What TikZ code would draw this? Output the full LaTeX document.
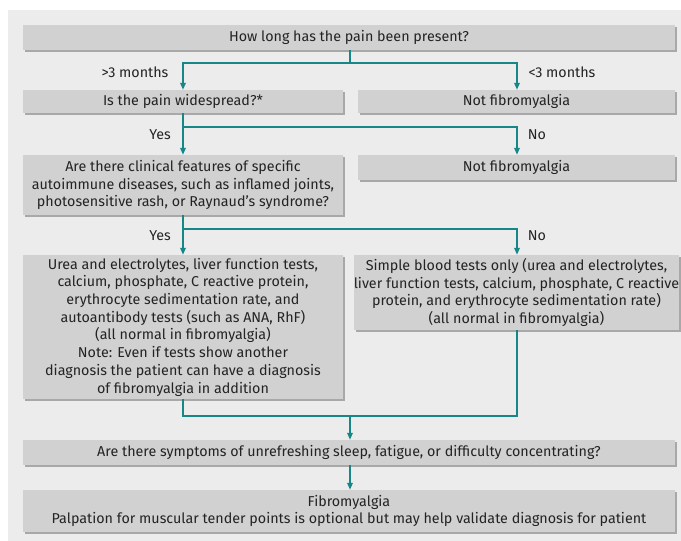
\documentclass[tikz,border=0pt]{standalone}
\usepackage{fontspec}
\setmainfont{Fira Sans}
\usetikzlibrary{arrows.meta,shadows}
\definecolor{panel}{RGB}{236,236,236}
\definecolor{boxfill}{RGB}{209,209,209}
\definecolor{shadowc}{RGB}{168,168,168}
\definecolor{teal}{RGB}{22,134,134}
\definecolor{txt}{RGB}{35,35,35}
\tikzset{
  box/.style={fill=boxfill, draw=none, align=center, inner sep=0pt, text=txt,
    font=\fontsize{14.3}{17.7}\selectfont,
    drop shadow={shadow xshift=2pt, shadow yshift=-2pt, fill=shadowc, opacity=1}},
  lbl/.style={text=txt, font=\fontsize{14.3}{17}\selectfont, inner sep=0pt},
  conn/.style={draw=teal, line width=1.6pt},
  arr/.style={conn, -{Triangle[length=7pt,width=5.5pt]}}
}
\begin{document}
\begin{tikzpicture}[x=1pt,y=-1pt]
\useasboundingbox (0,0) rectangle (681,541);
\fill[panel] (8,10) rectangle (681,541);
% boxes
\node[box, minimum width=652pt, minimum height=25pt] (q1) at (349,37.5) {How long has the pain been present?};
\node[box, minimum width=320pt, minimum height=23pt] (q2) at (183,101.5) {Is the pain widespread?*};
\node[box, minimum width=317pt, minimum height=23pt] (n1) at (516.5,101.5) {Not fibromyalgia};
\node[box, minimum width=320pt, minimum height=60pt] (q3) at (183,185) {Are there clinical features of specific\\autoimmune diseases, such as inflamed joints,\\photosensitive rash, or Raynaud’s syndrome?};
\node[box, minimum width=317pt, minimum height=25pt] (n2) at (516.5,167.5) {Not fibromyalgia};
\node[box, minimum width=320pt, minimum height=144pt] (t1) at (183,327) {Urea and electrolytes, liver function tests,\\calcium, phosphate, C reactive protein,\\erythrocyte sedimentation rate, and\\autoantibody tests (such as ANA, RhF)\\(all normal in fibromyalgia)\\Note: Even if tests show another\\diagnosis the patient can have a diagnosis\\of fibromyalgia in addition};
\node[box, minimum width=317pt, minimum height=75pt] (t2) at (516.5,292.5) {Simple blood tests only (urea and electrolytes,\\liver function tests, calcium, phosphate, C reactive\\protein, and erythrocyte sedimentation rate)\\(all normal in fibromyalgia)};
\node[box, minimum width=652pt, minimum height=25pt] (q4) at (349,452.5) {Are there symptoms of unrefreshing sleep, fatigue, or difficulty concentrating?};
\node[box, minimum width=652pt, minimum height=42pt] (f) at (349,511) {Fibromyalgia\\Palpation for muscular tender points is optional but may help validate diagnosis for patient};
% junctions
\coordinate (j1) at (350,63);
\coordinate (j2) at (183,127);
\coordinate (j3) at (183,229);
\coordinate (j4) at (350,416);
% connectors
\draw[conn] (q1.south -| j1) -- (j1);
\draw[arr] (j1) -| (q2.north);
\draw[arr] (j1) -| (n1.north -| 517,0);
\draw[conn] (q2.south) -- (j2);
\draw[arr] (j2) -- (q3.north);
\draw[arr] (j2) -| (n2.north -| 517,0);
\draw[conn] (q3.south) -- (j3);
\draw[arr] (j3) -- (t1.north);
\draw[arr] (j3) -| (t2.north -| 517,0);
\draw[conn] (t1.south) |- (j4);
\draw[conn] (t2.south -| 517,0) |- (j4);
\draw[arr] (j4) -- (q4.north -| j4);
\draw[arr] (q4.south -| j4) -- (f.north -| j4);
% labels
\node[lbl] (l1) at (135,72) {>3 months};
\node[lbl] (l2) at (562,72) {<3 months};
\node[lbl] (l3) at (160,135) {Yes};
\node[lbl] (l4) at (537,135) {No};
\node[lbl] (l5) at (160,236) {Yes};
\node[lbl] (l6) at (537,236) {No};
\end{tikzpicture}
\end{document}
